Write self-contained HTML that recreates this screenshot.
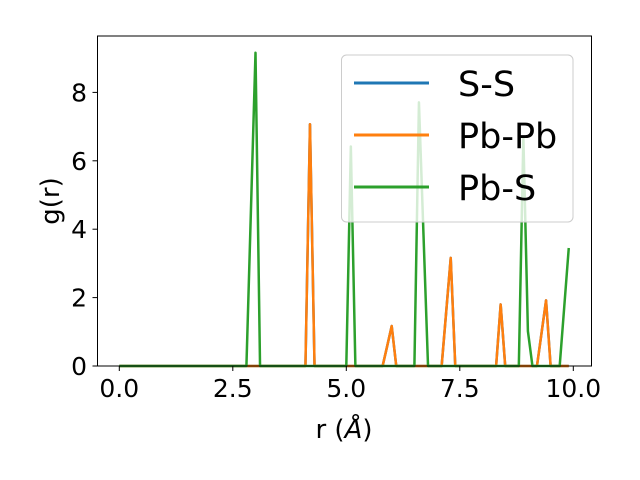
<!DOCTYPE html>
<html><head><meta charset="utf-8"><style>
body{margin:0;background:#fff;}
svg{display:block;font-family:"DejaVu Sans","Liberation Sans",sans-serif;}
</style></head><body>
<svg id="chart" width="640" height="480" viewBox="0 0 640 480" xmlns="http://www.w3.org/2000/svg">
<g id="lines"></g>
<rect x="97.5" y="36" width="494" height="330" fill="none" stroke="#000" stroke-width="1"/>
<g id="axes"></g>
<text transform="translate(59,201) rotate(-90)" text-anchor="middle" font-size="26">g(r)</text>
<text x="344" y="438" text-anchor="middle" font-size="26">r (<tspan font-style="italic">Å</tspan>)</text>
<g>
<rect x="341.5" y="55" width="231.5" height="167" rx="5" fill="#fff" fill-opacity="0.8" stroke="#ccc" stroke-width="1"/>
<line x1="354" y1="83" x2="429" y2="83" stroke="#1f77b4" stroke-width="3"/>
<text x="458" y="96" font-size="35">S-S</text>
<line x1="354" y1="135" x2="429" y2="135" stroke="#ff7f0e" stroke-width="3"/>
<text x="458" y="148" font-size="35">Pb-Pb</text>
<line x1="354" y1="187" x2="429" y2="187" stroke="#2ca02c" stroke-width="3"/>
<text x="458" y="200" font-size="35">Pb-S</text>
</g>
</svg>
<script>
const seriesNames = ["S-S", "Pb-Pb", "Pb-S"];
const seriesColors = ["#1f77b4", "#ff7f0e", "#2ca02c"];
// peaks as [r, g] pairs; all other sample points (0..9.9 step 0.1) are zero
const ssPeaks = [[4.2,7.07],[5.9,0.58],[6.0,1.17],[7.2,1.58],[7.3,3.16],[8.4,1.8],[9.3,0.96],[9.4,1.92]];
const pbpbPeaks = [[4.2,7.07],[5.9,0.58],[6.0,1.17],[7.2,1.58],[7.3,3.16],[8.4,1.8],[9.3,0.96],[9.4,1.92]];
const pbsPeaks = [[2.9,4.58],[3.0,9.16],[5.1,6.42],[6.6,7.71],[6.7,3.85],[8.9,6.7],[9.0,1.02],[9.8,1.72],[9.9,3.45]];
const xTicks = [0, 2.5, 5, 7.5, 10];
const xTickLabels = ["0.0", "2.5", "5.0", "7.5", "10.0"];
const yTicks = [0, 2, 4, 6, 8];
const yTickLabels = ["0", "2", "4", "6", "8"];
const nPoints = 100, rStep = 0.1;

const NS = "http://www.w3.org/2000/svg";
function xs(r){ return 119.3 + r * 45.4; }
function ys(g){ return 366 - g * 34.2; }
function build(peaks){
  const vals = new Array(nPoints).fill(0);
  peaks.forEach(p => { const i = Math.round(p[0] / rStep); if (i >= 0 && i < nPoints) vals[i] = p[1]; });
  return vals;
}
const lines = document.getElementById("lines");
[ssPeaks, pbpbPeaks, pbsPeaks].forEach((pk, s) => {
  const v = build(pk);
  const pts = v.map((g, i) => xs(i * rStep).toFixed(2) + "," + ys(g).toFixed(2)).join(" ");
  const pl = document.createElementNS(NS, "polyline");
  pl.setAttribute("points", pts);
  pl.setAttribute("fill", "none");
  pl.setAttribute("stroke", seriesColors[s]);
  pl.setAttribute("stroke-width", "2.5");
  pl.setAttribute("stroke-linejoin", "round");
  
  
  lines.appendChild(pl);
});
const axes = document.getElementById("axes");
xTicks.forEach((t, i) => {
  const x = xs(t);
  const ln = document.createElementNS(NS, "line");
  ln.setAttribute("x1", x); ln.setAttribute("x2", x);
  ln.setAttribute("y1", 366); ln.setAttribute("y2", 371);
  ln.setAttribute("stroke", "#000");
  
  
  axes.appendChild(ln);
  const tx = document.createElementNS(NS, "text");
  tx.setAttribute("x", x); tx.setAttribute("y", 397);
  tx.setAttribute("text-anchor", "middle");
  tx.setAttribute("font-size", "25");
  tx.textContent = xTickLabels[i];
  
  
  axes.appendChild(tx);
});
yTicks.forEach((t, i) => {
  const y = ys(t);
  const ln = document.createElementNS(NS, "line");
  ln.setAttribute("x1", 92.5); ln.setAttribute("x2", 97.5);
  ln.setAttribute("y1", y); ln.setAttribute("y2", y);
  ln.setAttribute("stroke", "#000");
  
  
  axes.appendChild(ln);
  const tx = document.createElementNS(NS, "text");
  tx.setAttribute("x", 87); tx.setAttribute("y", y + 9);
  tx.setAttribute("text-anchor", "end");
  tx.setAttribute("font-size", "25");
  tx.textContent = yTickLabels[i];
  
  
  axes.appendChild(tx);
});
</script>
</body></html>
